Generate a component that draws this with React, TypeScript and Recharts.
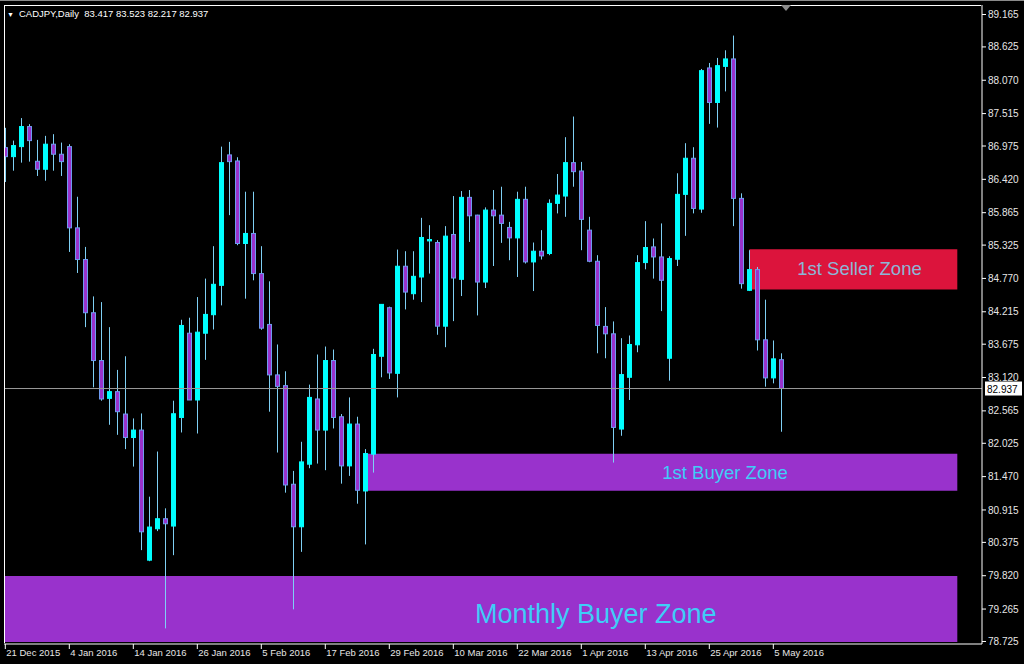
import React from 'react';
import { ComposedChart, Bar, XAxis, YAxis, ReferenceArea, ReferenceLine } from 'recharts';

// daily CADJPY candles, 21 Dec 2015 .. 6 May 2016
const opens = [
  86.948, 86.798, 86.965, 87.299, 86.721, 86.588, 87.005, 86.838, 86.965, 85.612,
  85.085, 84.199, 83.403, 82.773, 82.885, 82.512, 82.121, 82.245, 80.079, 80.602,
  80.769, 80.647, 82.455, 83.858, 82.746, 83.858, 84.166, 84.655, 86.827, 86.726,
  85.352, 85.519, 84.851, 84.004, 83.164, 82.985, 81.343, 80.635, 81.677, 82.763,
  82.245, 83.403, 82.467, 81.649, 82.345, 81.231, 81.844, 83.474, 84.283, 83.190,
  84.973, 84.516, 84.794, 85.395, 85.368, 83.975, 85.502, 84.755, 86.120, 85.824,
  84.710, 85.908, 85.824, 85.619, 85.445, 86.087, 85.045, 85.223, 85.185, 86.020,
  86.142, 86.698, 86.559, 85.574, 85.056, 83.971, 83.848, 82.262, 83.124, 83.665,
  85.034, 85.295, 85.128, 83.441, 85.090, 86.170, 86.771, 85.925, 88.275, 87.700,
  88.301, 88.425, 86.103, 84.572, 84.917, 83.748, 83.114, 83.417,
];
const highs = [
  87.278, 87.065, 87.440, 87.339, 87.077, 87.144, 87.172, 87.032, 87.005, 86.130,
  85.295, 84.471, 84.376, 83.959, 83.247, 83.474, 82.439, 82.522, 81.136, 81.888,
  80.942, 82.734, 84.082, 84.116, 84.460, 84.767, 85.307, 86.965, 87.044, 86.788,
  86.214, 86.214, 85.307, 84.722, 83.670, 83.224, 81.565, 82.050, 83.002, 83.503,
  83.636, 83.586, 82.512, 82.789, 82.467, 81.928, 83.598, 84.338, 84.300, 85.251,
  85.223, 85.223, 85.779, 85.657, 85.407, 85.641, 86.142, 86.225, 86.242, 85.830,
  85.953, 86.242, 86.297, 85.712, 86.214, 86.297, 85.368, 85.574, 86.087, 86.509,
  87.122, 87.466, 86.710, 85.796, 85.157, 84.293, 84.054, 83.775, 83.820, 85.157,
  85.724, 85.435, 85.686, 85.140, 86.521, 87.022, 86.955, 88.258, 88.358, 88.442,
  88.569, 88.814, 86.187, 85.240, 84.961, 84.416, 83.737, 83.523,
];
const lows = [
  86.376, 86.564, 86.698, 86.715, 86.476, 86.397, 86.564, 86.476, 85.211, 84.861,
  83.959, 82.957, 82.734, 82.333, 82.166, 81.928, 81.637, 80.246, 80.062, 80.563,
  78.943, 80.162, 82.205, 82.746, 82.188, 83.414, 83.920, 84.321, 85.824, 85.323,
  84.433, 84.739, 83.915, 82.551, 81.871, 81.203, 79.260, 80.217, 81.610, 81.687,
  81.577, 82.272, 81.353, 81.482, 81.019, 80.341, 81.537, 83.124, 83.097, 82.789,
  84.254, 84.416, 84.376, 84.851, 83.832, 83.625, 84.059, 84.477, 85.378, 84.154,
  84.610, 84.977, 85.362, 85.073, 84.794, 85.018, 84.560, 85.085, 85.157, 85.853,
  85.796, 86.297, 85.240, 85.040, 83.524, 83.441, 81.704, 82.150, 82.746, 83.541,
  84.922, 84.767, 84.226, 83.068, 84.977, 85.479, 85.853, 85.863, 87.344, 87.282,
  87.884, 85.641, 84.600, 84.560, 83.570, 82.968, 83.023, 82.217,
];
const closes = [
  86.798, 86.982, 87.299, 87.065, 86.588, 87.005, 86.838, 86.715, 85.612, 85.085,
  84.199, 83.403, 82.763, 82.885, 82.551, 82.121, 82.245, 80.551, 80.630, 80.769,
  80.685, 82.517, 83.987, 82.746, 83.875, 84.171, 84.672, 86.698, 86.715, 85.352,
  85.519, 84.851, 83.942, 83.164, 82.973, 81.331, 80.635, 81.715, 82.789, 82.245,
  83.403, 82.455, 81.649, 82.345, 81.243, 81.854, 83.503, 84.338, 83.197, 84.973,
  84.543, 84.805, 85.452, 85.418, 83.975, 85.474, 84.777, 86.120, 85.813, 84.710,
  85.908, 85.813, 85.686, 85.445, 86.087, 85.045, 85.223, 85.145, 86.020, 86.158,
  86.698, 86.548, 85.753, 85.056, 83.987, 83.848, 82.289, 83.169, 83.670, 85.034,
  85.285, 85.128, 84.739, 85.101, 86.170, 86.771, 85.936, 88.230, 87.700, 88.313,
  88.425, 86.103, 84.683, 84.917, 83.748, 83.114, 83.431, 82.937,
];

const dateTicks = [0, 8, 16, 24, 32, 40, 48, 56, 64, 72, 80, 88, 96];
const dateLabels = [
  '21 Dec 2015', '4 Jan 2016', '14 Jan 2016', '26 Jan 2016', '5 Feb 2016', '17 Feb 2016',
  '29 Feb 2016', '10 Mar 2016', '22 Mar 2016', '1 Apr 2016', '13 Apr 2016', '25 Apr 2016', '5 May 2016',
];
const priceTicks = [
  89.165, 88.625, 88.07, 87.515, 86.975, 86.42, 85.865, 85.325, 84.77, 84.215,
  83.675, 83.12, 82.565, 82.025, 81.47, 80.915, 80.375, 79.82, 79.265, 78.725,
];
const lastPrice = 82.937;

// zones: [left bar, right bar, low price, high price]
const monthlyBuyer = [-0.05, 119, 78.716, 79.817];
const firstBuyer = [45, 119, 81.235, 81.852];
const firstSeller = [93, 119, 84.587, 85.254];

const BULL = '#00ffff';
const BEAR = '#9932cc';
const BEAR_EDGE = '#6f9cf0';
const WICK = '#7fd0f4';
const FONT = '"Liberation Sans", Arial, sans-serif';

const candles = opens.map((open, i) => ({
  i,
  open,
  high: highs[i],
  low: lows[i],
  close: closes[i],
  range: [lows[i], highs[i]],
}));

function Candle(props: any) {
  const { x, y, width, height, payload } = props;
  if (!payload || height == null) return null;
  const { open, close, high, low } = payload;
  const span = high - low || 1;
  const toY = (v: number) => y + ((high - v) / span) * height;
  const cx = Math.round(x + width / 2) + 0.5;
  const top = toY(Math.max(open, close));
  const bottom = toY(Math.min(open, close));
  const up = close >= open;
  return (
    <g>
      <line x1={cx} x2={cx} y1={y} y2={y + height} stroke={WICK} strokeWidth={1} />
      <rect
        x={cx - 2}
        y={top}
        width={4}
        height={Math.max(bottom - top, 1)}
        fill={up ? BULL : BEAR}
        stroke={up ? BULL : BEAR_EDGE}
        strokeWidth={1}
      />
    </g>
  );
}

function DateTick(props: any) {
  const { x, y, payload } = props;
  const idx = dateTicks.indexOf(payload.value);
  return (
    <text x={x + 1} y={y + 5} fill="#e6e6e6" fontSize={9.5} fontFamily={FONT} textAnchor="start">
      {dateLabels[idx]}
    </text>
  );
}

function PriceTag(props: any) {
  const { viewBox } = props;
  if (!viewBox) return null;
  const x = viewBox.x + viewBox.width + 3;
  const y = viewBox.y;
  return (
    <g>
      <rect x={x} y={y - 7} width={37} height={14} fill="#ffffff" />
      <text x={x + 2} y={y + 4} fill="#000" fontSize={10} fontFamily={FONT}>
        {lastPrice.toFixed(3)}
      </text>
    </g>
  );
}

function zoneLabel(value: string, offset: number, size: number, color: string, dy = 0) {
  return { value, position: 'insideLeft' as const, offset, fill: color, fontSize: size, fontFamily: FONT, dy };
}

export default function App() {
  return (
    <div
      style={{
        position: 'fixed',
        left: 0,
        top: 0,
        width: 1024,
        height: 664,
        background: '#000',
        borderTop: '1px solid #8a8a8a',
        boxSizing: 'border-box',
        overflow: 'hidden',
      }}
    >
      <ComposedChart
        width={1024}
        height={663}
        data={candles}
        margin={{ top: 4, right: 0, left: 4, bottom: 0 }}
      >
        <XAxis
          dataKey="i"
          type="number"
          domain={[-0.1625, 122.0875]}
          allowDataOverflow
          ticks={dateTicks}
          tick={<DateTick />}
          tickSize={5}
          height={20}
          stroke="#ffffff"
          tickLine={{ stroke: '#ffffff' }}
        />
        <YAxis
          orientation="right"
          type="number"
          domain={[78.683, 89.323]}
          allowDataOverflow
          ticks={priceTicks}
          interval={0}
          tickFormatter={(v: number) => v.toFixed(3)}
          tick={{ fill: '#e6e6e6', fontSize: 10, fontFamily: FONT }}
          tickSize={4}
          tickMargin={2}
          width={42}
          stroke="#ffffff"
        />
        <ReferenceArea
          x1={monthlyBuyer[0]}
          x2={monthlyBuyer[1]}
          y1={monthlyBuyer[2]}
          y2={monthlyBuyer[3]}
          fill="#9932cc"
          fillOpacity={1}
          stroke="none"
          label={zoneLabel('Monthly Buyer Zone', 470, 27, '#3fcdf7', 4)}
        />
        <ReferenceArea
          x1={firstBuyer[0]}
          x2={firstBuyer[1]}
          y1={firstBuyer[2]}
          y2={firstBuyer[3]}
          fill="#9932cc"
          fillOpacity={1}
          stroke="none"
          label={zoneLabel('1st Buyer Zone', 297, 18.5, '#3fcdf7')}
        />
        <ReferenceArea
          x1={firstSeller[0]}
          x2={firstSeller[1]}
          y1={firstSeller[2]}
          y2={firstSeller[3]}
          fill="#dc143c"
          fillOpacity={1}
          stroke="none"
          label={zoneLabel('1st Seller Zone', 48, 18.5, '#8db6d6', -1)}
        />
        <ReferenceLine y={lastPrice} stroke="#9a9a9a" strokeWidth={1} label={<PriceTag />} />
        <Bar dataKey="range" barSize={5} shape={<Candle />} isAnimationActive={false} />
      </ComposedChart>

      <div
        style={{
          position: 'absolute',
          left: 4,
          top: 4,
          width: 977,
          height: 638,
          borderTop: '1px solid #ffffff',
          borderLeft: '1px solid #ffffff',
          boxSizing: 'border-box',
          pointerEvents: 'none',
        }}
      />
      <div
        style={{
          position: 'absolute',
          left: 7,
          top: 7,
          color: '#ffffff',
          fontFamily: FONT,
          fontSize: 9.5,
          whiteSpace: 'pre',
        }}
      >
        <span style={{ fontSize: 7, marginRight: 5 }}>▼</span>
        CADJPY,Daily{'  '}83.417 83.523 82.217 82.937
      </div>
      <svg style={{ position: 'absolute', left: 780, top: 4 }} width={12} height={8}>
        <polygon points="1,0 11,0 6,6" fill="#8c8c8c" />
      </svg>
    </div>
  );
}
